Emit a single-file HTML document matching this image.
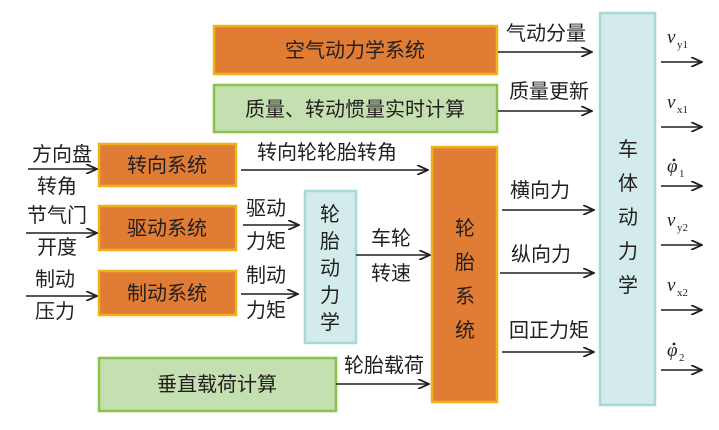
<!DOCTYPE html>
<html><head><meta charset="utf-8"><style>
html,body{margin:0;padding:0;background:#fff;}
text{font-family:"Liberation Sans","Noto Sans CJK SC",sans-serif;fill:#231f20;}
.t{font-size:20px;}
.m{font-family:"Liberation Serif",serif;font-style:italic;font-size:19px;}
.sub{font-family:"Liberation Serif",serif;font-size:11px;}
</style></head><body>
<svg width="719" height="425" viewBox="0 0 719 425" xmlns="http://www.w3.org/2000/svg">
<defs><marker id="a" markerWidth="12" markerHeight="10" refX="11" refY="5" orient="auto" markerUnits="userSpaceOnUse"><path d="M0,0 L11,5 L0,10" fill="none" stroke="#231f20" stroke-width="1.8"/></marker></defs>
<g stroke-width="2.5">
<rect x="214" y="26" width="283" height="48" fill="#e07c33" stroke="#f0b21a"/>
<rect x="214" y="85" width="283" height="47" fill="#c5e0b0" stroke="#8bc34a"/>
<rect x="99" y="144" width="137" height="42" fill="#e07c33" stroke="#f0b21a"/>
<rect x="99" y="206" width="137" height="44" fill="#e07c33" stroke="#f0b21a"/>
<rect x="99" y="271" width="137" height="44" fill="#e07c33" stroke="#f0b21a"/>
<rect x="305" y="191" width="51" height="152" fill="#d3ebeb" stroke="#a8d8d8"/>
<rect x="432" y="147" width="65" height="255" fill="#e07c33" stroke="#f0b21a"/>
<rect x="99" y="358" width="237" height="53" fill="#c5e0b0" stroke="#8bc34a"/>
<rect x="600" y="13" width="55" height="392" fill="#d3ebeb" stroke="#a8d8d8"/>
</g>
<g stroke="#231f20" stroke-width="1.6" marker-end="url(#a)">
<line x1="28" y1="169" x2="97" y2="169"/>
<line x1="26" y1="233" x2="97" y2="233"/>
<line x1="26" y1="296" x2="97" y2="296"/>
<line x1="241" y1="170" x2="428" y2="170"/>
<line x1="243" y1="225" x2="299" y2="225"/>
<line x1="241" y1="294" x2="298" y2="294"/>
<line x1="356" y1="255" x2="430" y2="255"/>
<line x1="336" y1="384" x2="429" y2="384"/>
<line x1="498" y1="52" x2="592" y2="52"/>
<line x1="498" y1="111" x2="592" y2="111"/>
<line x1="502" y1="210" x2="594" y2="210"/>
<line x1="500" y1="273" x2="594" y2="273"/>
<line x1="502" y1="352" x2="594" y2="352"/>
<line x1="661" y1="62" x2="702" y2="62"/>
<line x1="661" y1="127" x2="702" y2="127"/>
<line x1="661" y1="186" x2="702" y2="186"/>
<line x1="661" y1="245" x2="702" y2="245"/>
<line x1="661" y1="310" x2="702" y2="310"/>
<line x1="661" y1="370" x2="702" y2="370"/>
</g>
<g class="t" text-anchor="middle">
<text x="355" y="57">空气动力学系统</text>
<text x="355" y="116">质量、转动惯量实时计算</text>
<text x="167" y="172">转向系统</text>
<text x="167" y="235">驱动系统</text>
<text x="167" y="300">制动系统</text>
<text x="217" y="391">垂直载荷计算</text>
<text x="330" y="221">轮</text><text x="330" y="248">胎</text><text x="330" y="275">动</text><text x="330" y="302">力</text><text x="330" y="329">学</text>
<text x="465" y="235">轮</text><text x="465" y="269">胎</text><text x="465" y="303">系</text><text x="465" y="337">统</text>
<text x="628" y="156">车</text><text x="628" y="190">体</text><text x="628" y="224">动</text><text x="628" y="258">力</text><text x="628" y="292">学</text>
<text x="62" y="161">方向盘</text><text x="57" y="193">转角</text>
<text x="57" y="222">节气门</text><text x="57" y="254">开度</text>
<text x="55" y="286">制动</text><text x="55" y="318">压力</text>
<text x="327" y="159">转向轮轮胎转角</text>
<text x="266" y="215">驱动</text><text x="266" y="248">力矩</text>
<text x="266" y="282">制动</text><text x="266" y="317">力矩</text>
<text x="391" y="245">车轮</text><text x="391" y="280">转速</text>
<text x="384" y="372">轮胎载荷</text>
<text x="546" y="40">气动分量</text>
<text x="549" y="98">质量更新</text>
<text x="540" y="197">横向力</text>
<text x="541" y="261">纵向力</text>
<text x="549" y="337">回正力矩</text>
</g>
<g>
<text class="m" x="667" y="43">v</text><text class="sub" x="677" y="48">y1</text>
<text class="m" x="667" y="108">v</text><text class="sub" x="677" y="113">x1</text>
<text class="m" x="667" y="172">φ</text><text class="sub" x="679" y="177">1</text><circle cx="674" cy="160" r="1.4" fill="#231f20"/>
<text class="m" x="667" y="226">v</text><text class="sub" x="677" y="231">y2</text>
<text class="m" x="667" y="291">v</text><text class="sub" x="677" y="296">x2</text>
<text class="m" x="667" y="356">φ</text><text class="sub" x="679" y="361">2</text><circle cx="674" cy="344" r="1.4" fill="#231f20"/>
</g>
</svg>
</body></html>
